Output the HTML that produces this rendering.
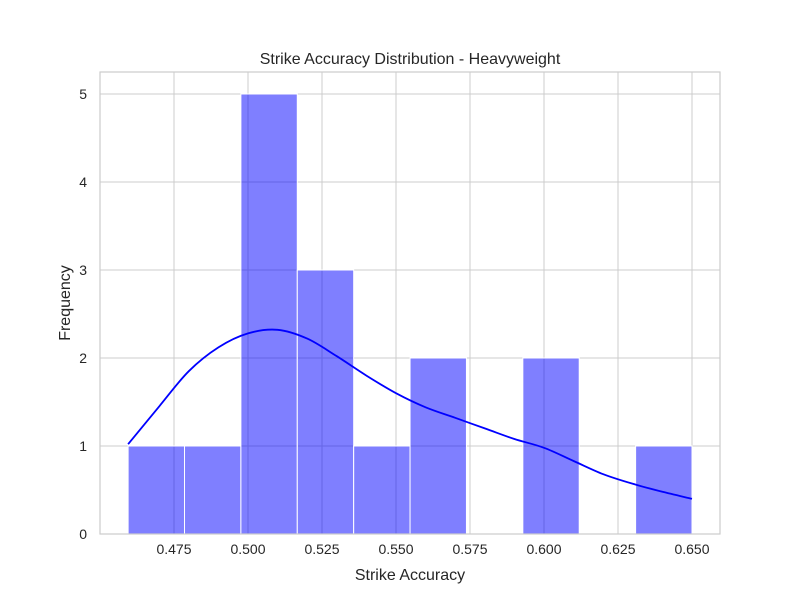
<!DOCTYPE html>
<html><head><meta charset="utf-8"><style>
body{margin:0;background:#fff;font-family:"Liberation Sans","DejaVu Sans",sans-serif}
svg text{font-family:"Liberation Sans","DejaVu Sans",sans-serif;fill:#262626}
</style></head><body>
<svg id="chart" width="800" height="600">
<g id="grid"></g><g id="bars"></g><g id="kde"></g><g id="axes"></g>
</svg>
<script>
const binStart = 0.4595;
const binEnd = 0.650;
const counts = [1,1,5,3,1,2,0,2,0,1];
const kdeX = [0.4595,0.47,0.48,0.49,0.50,0.51,0.52,0.53,0.54,0.55,0.56,0.57,0.58,0.59,0.60,0.61,0.62,0.63,0.64,0.65];
const kdeY = [1.02,1.45,1.85,2.12,2.28,2.32,2.22,2.02,1.80,1.60,1.44,1.32,1.20,1.08,0.98,0.83,0.68,0.57,0.48,0.40];
const xTicks = [0.475,0.500,0.525,0.550,0.575,0.600,0.625,0.650];
const yTicks = [0,1,2,3,4,5];

const L=100,R=720,T=72,B=534;
const xs=v=>174+(v-0.475)*2960;
const ys=v=>B-v*88;
const NS="http://www.w3.org/2000/svg";
function mk(tag,parent,attrs){const e=document.createElementNS(NS,tag);for(const k in attrs)e.setAttribute(k,attrs[k]);parent.appendChild(e);return e;}
const grid=document.getElementById('grid'),bars=document.getElementById('bars'),kde=document.getElementById('kde'),axes=document.getElementById('axes');
xTicks.forEach(t=>{
  const g=mk('line',grid,{x1:xs(t),x2:xs(t),y1:T,y2:B,stroke:'#cccccc','stroke-width':1});
  
  
  const tx=mk('text',axes,{x:xs(t),y:B+20,'text-anchor':'middle','font-size':14});
  tx.textContent=t.toFixed(3);
  
  
});
yTicks.forEach(t=>{
  const g=mk('line',grid,{x1:L,x2:R,y1:ys(t),y2:ys(t),stroke:'#cccccc','stroke-width':1});
  
  
  const tx=mk('text',axes,{x:L-13,y:ys(t)+5,'text-anchor':'end','font-size':14});
  tx.textContent=t;
  
  
});
const w=(binEnd-binStart)/counts.length;
counts.forEach((c,i)=>{
  if(c<=0)return;
  const x0=xs(binStart+i*w),x1=xs(binStart+(i+1)*w);
  const r=mk('rect',bars,{x:x0,y:ys(c),width:x1-x0,height:ys(0)-ys(c),fill:'rgba(0,0,255,0.5)',stroke:'#ffffff','stroke-width':1});
  
  
});
const pts=kdeX.map((x,i)=>[xs(x),ys(kdeY[i])]);
let d='M'+pts[0][0].toFixed(1)+','+pts[0][1].toFixed(1);
for(let i=0;i<pts.length-1;i++){
  const p0=pts[Math.max(0,i-1)],p1=pts[i],p2=pts[i+1],p3=pts[Math.min(pts.length-1,i+2)];
  const c1=[p1[0]+(p2[0]-p0[0])/6,p1[1]+(p2[1]-p0[1])/6];
  const c2=[p2[0]-(p3[0]-p1[0])/6,p2[1]-(p3[1]-p1[1])/6];
  d+='C'+c1[0].toFixed(1)+','+c1[1].toFixed(1)+' '+c2[0].toFixed(1)+','+c2[1].toFixed(1)+' '+p2[0].toFixed(1)+','+p2[1].toFixed(1);
}
const p=mk('path',kde,{d:d,fill:'none',stroke:'#0000ff','stroke-width':1.8,'stroke-linejoin':'round'});


const fr=mk('rect',axes,{x:L,y:T,width:R-L,height:B-T,fill:'none',stroke:'#cccccc','stroke-width':1.2});


const ti=mk('text',axes,{x:410,y:64,'text-anchor':'middle','font-size':16});
ti.textContent='Strike Accuracy Distribution - Heavyweight';


const xl=mk('text',axes,{x:410,y:580,'text-anchor':'middle','font-size':16});
xl.textContent='Strike Accuracy';


const yl=mk('text',axes,{x:70,y:303,'text-anchor':'middle','font-size':16,transform:'rotate(-90 70 303)'});
yl.textContent='Frequency';


</script>
</body></html>
